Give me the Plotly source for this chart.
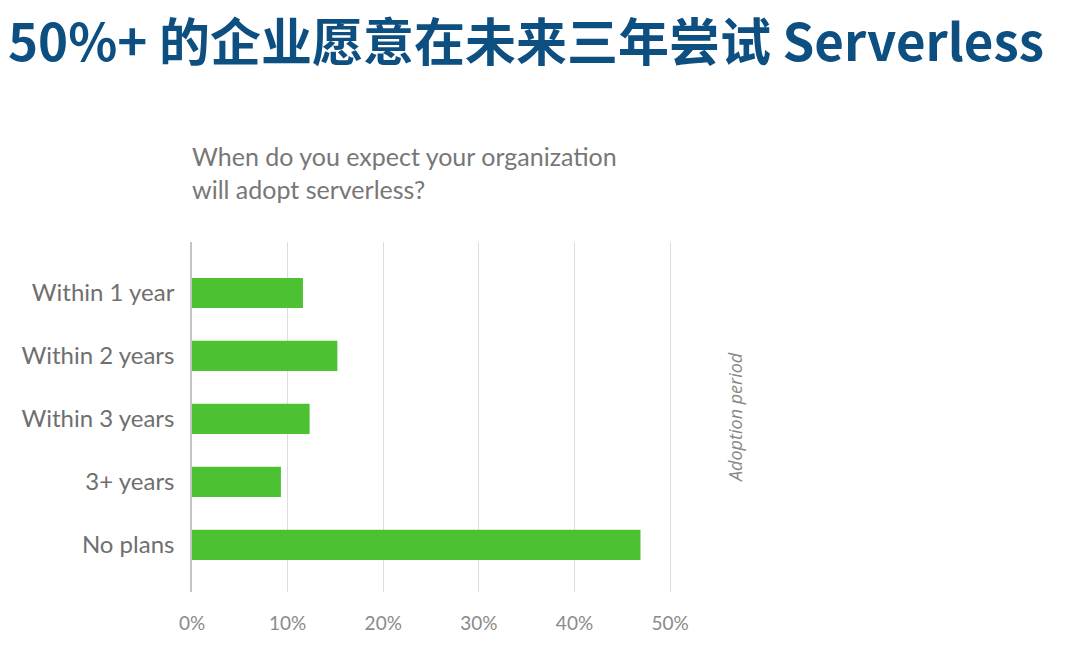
import plotly.graph_objects as go

categories = ["Within 1 year", "Within 2 years", "Within 3 years", "3+ years", "No plans"]
values = [11.6, 15.2, 12.3, 9.3, 46.9]
x_ticks = [0, 10, 20, 30, 40, 50]
x_tick_labels = ["0%", "10%", "20%", "30%", "40%", "50%"]

W, H = 1080, 662
L, R, T, B = 192, 673, 242, 592

def px(x):
    return (x - L) / (R - L)

def py(y):
    return (B - y) / (B - T)

fig = go.Figure(go.Bar(
    x=values, y=categories, orientation="h",
    marker=dict(color="#4cc233", line=dict(width=0)),
    width=0.48,
))

fig.update_layout(
    width=W, height=H,
    margin=dict(l=L, r=W - R, t=T, b=H - B, pad=0),
    paper_bgcolor="white", plot_bgcolor="white",
    showlegend=False,
    font=dict(family="Lato, 'Open Sans', sans-serif", color="#777777"),
    title=dict(
        text="50%+ 的企业愿意在未来三年尝试 Serverless",
        font=dict(family="'Noto Sans CJK SC', 'Noto Sans', sans-serif", size=51, color="#0d4f80", weight="bold"),
        x=8 / W, xanchor="left", xref="container",
        y=1 - 43 / H, yanchor="middle", yref="container",
    ),
    xaxis=dict(
        range=[0, 50.3], tickvals=x_ticks, ticktext=x_tick_labels,
        showgrid=True, gridcolor="#dddddd", gridwidth=1,
        zeroline=False, showline=False,
        tickfont=dict(size=19, color="#8a8a8a"),
        ticks="", ticklabelstandoff=18,
        fixedrange=True,
    ),
    yaxis=dict(
        categoryorder="array", categoryarray=categories,
        range=[4.75, -0.81],
        showgrid=False, zeroline=False,
        showline=True, linecolor="#c4c4c4", linewidth=1.5,
        tickfont=dict(size=24, color="#6f6f6f"),
        ticks="", ticklabelstandoff=11,
        fixedrange=True,
    ),
    annotations=[
        dict(text="When do you expect your organization<br>will adopt serverless?",
             xref="paper", yref="paper", x=px(190), y=py(139),
             xanchor="left", yanchor="top", align="left", showarrow=False,
             font=dict(size=25, color="#777777", family="Lato, 'Open Sans', sans-serif")),
        dict(text="<i>Adoption period</i>",
             xref="paper", yref="paper", x=px(735), y=py(418),
             xanchor="center", yanchor="middle", textangle=-90, showarrow=False,
             font=dict(size=18, color="#888888", family="'Open Sans', Lato, sans-serif")),
    ],
)

fig.write_html("out.html")
